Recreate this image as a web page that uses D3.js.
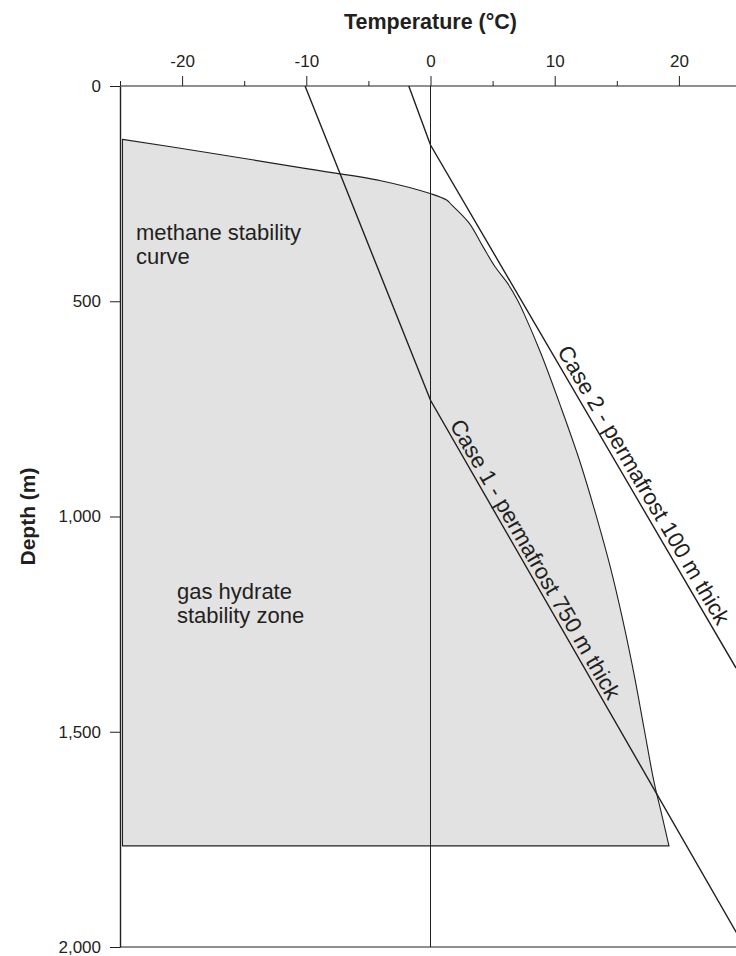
<!DOCTYPE html>
<html>
<head>
<meta charset="utf-8">
<script src="https://cdn.jsdelivr.net/npm/d3@7"></script>
<style>
  body { margin: 0; background: #fff; }
  svg { display: block; font-family: "Liberation Sans", Arial, Helvetica, sans-serif; }
</style>
</head>
<body>
<svg id="chart" width="736" height="956"></svg>
<script>
// axis ticks
const tempTicks = [-20, -10, 0, 10, 20];
const tempMinorTicks = [-25, -15, -5, 5, 15, 25];
const depthTicks = [0, 500, 1000, 1500, 2000];

// methane stability curve (temperature °C, depth m), closed at the base
const stabilityTemp  = [-24.8, -18.5, -10, -4.0, 0.1, 1.3, 1.7, 3.1, 4.2, 5.2, 6.2, 7.0, 7.5, 8.9, 10.5, 12.0, 13.3, 14.5, 15.5, 16.4, 17.2, 18.0, 18.6, 19.2];
const stabilityDepth = [124, 152, 192, 220, 251, 265, 276, 318, 372, 420, 458, 497, 527, 622, 746, 870, 994, 1120, 1243, 1368, 1493, 1617, 1690, 1765];
const zoneBaseTemp = -24.8;

// geothermal profiles
const case1Temp  = [-10.1, 0, 25.3];
const case1Depth = [0, 730, 2000];
const case2Temp  = [-1.75, 0, 24.6];
const case2Depth = [0, 137, 1352];

const svg = d3.select("#chart");
const ink = "#231f20";

const x = d3.scaleLinear().domain([-25, 25]).range([120, 741]);
const y = d3.scaleLinear().domain([0, 2000]).range([86, 947]);

const line = d3.line().x(d => x(d[0])).y(d => y(d[1]));

// gas hydrate stability zone
const zonePts = stabilityTemp.map((t, i) => [t, stabilityDepth[i]]);
const zoneBase = stabilityDepth[stabilityDepth.length - 1];
svg.append("path")
  .attr("d", d3.line().x(d => x(d[0])).y(d => y(d[1])).curve(d3.curveCatmullRom)(zonePts)
    + "L" + x(zoneBaseTemp) + "," + y(zoneBase) + "Z")
  .attr("fill", "#e2e2e2")
  .attr("stroke", ink)
  .attr("stroke-width", 1.1);

// 0 °C line
svg.append("line")
  .attr("x1", x(0)).attr("x2", x(0))
  .attr("y1", y(0)).attr("y2", y(2000))
  .attr("stroke", ink).attr("stroke-width", 1);

// bottom frame
svg.append("line")
  .attr("x1", x(-25)).attr("x2", x(25))
  .attr("y1", y(2000)).attr("y2", y(2000))
  .attr("stroke", ink).attr("stroke-width", 1.2);

// case lines
const cases = [
  { t: case1Temp, d: case1Depth, label: "Case 1 - permafrost 750 m thick", at: 792, off: -4 },
  { t: case2Temp, d: case2Depth, label: "Case 2 - permafrost 100 m thick", at: 622, off: -5 }
];

cases.forEach(c => {
  svg.append("path")
    .attr("d", line(c.t.map((t, i) => [t, c.d[i]])))
    .attr("fill", "none")
    .attr("stroke", ink)
    .attr("stroke-width", 1.4);

  // label runs along the deep segment
  const n = c.t.length;
  const tAt = d3.scaleLinear().domain(c.d.slice(n - 2)).range(c.t.slice(n - 2));
  const ang = Math.atan2(y(c.d[n - 1]) - y(c.d[n - 2]), x(c.t[n - 1]) - x(c.t[n - 2])) * 180 / Math.PI;
  svg.append("text")
    .attr("transform", "translate(" + x(tAt(c.at)) + "," + y(c.at) + ") rotate(" + ang + ")")
    .attr("dy", c.off)
    .attr("font-size", 22.4)
    .attr("fill", ink)
    .text(c.label);
});

// top axis
const topAxis = svg.append("g").attr("transform", "translate(0," + y(0) + ")");
topAxis.call(d3.axisTop(x).tickValues(tempTicks).tickSize(10).tickSizeOuter(0).tickPadding(9).tickFormat(d => String(d)));
topAxis.call(g => g.select(".domain").remove());
svg.append("g").attr("transform", "translate(0," + y(0) + ")")
  .call(d3.axisTop(x).tickValues(tempMinorTicks).tickSize(5).tickSizeOuter(0).tickFormat(""))
  .call(g => g.select(".domain").remove());
svg.append("line")
  .attr("x1", x(-25)).attr("x2", x(25))
  .attr("y1", y(0)).attr("y2", y(0))
  .attr("stroke", ink).attr("stroke-width", 1.2);

// left axis
const leftAxis = svg.append("g").attr("transform", "translate(" + x(-25) + ",0)");
leftAxis.call(d3.axisLeft(y).tickValues(depthTicks).tickSize(10).tickSizeOuter(0).tickPadding(9).tickFormat(d3.format(",")));
leftAxis.select(".domain").attr("stroke-width", 1.4);

svg.selectAll(".tick line").attr("stroke", ink).attr("stroke-width", 1);
svg.selectAll(".tick text").attr("fill", ink).attr("font-size", 17).attr("font-family", null);
svg.selectAll(".domain").attr("stroke", ink);

// axis titles
svg.append("text")
  .attr("x", x(0)).attr("y", 29)
  .attr("text-anchor", "middle")
  .attr("font-size", 21.5).attr("font-weight", "bold").attr("fill", ink)
  .text("Temperature (°C)");

svg.append("text")
  .attr("transform", "translate(35," + y(1000) + ") rotate(-90)")
  .attr("text-anchor", "middle")
  .attr("font-size", 21).attr("font-weight", "bold").attr("fill", ink)
  .text("Depth (m)");

// annotations
const notes = [
  { x: 136, y: 240, lines: ["methane stability", "curve"] },
  { x: 177, y: 599, lines: ["gas hydrate", "stability zone"] }
];
notes.forEach(n => {
  const t = svg.append("text").attr("font-size", 22).attr("fill", ink);
  n.lines.forEach((s, i) => {
    t.append("tspan").attr("x", n.x).attr("y", n.y + i * 24).text(s);
  });
});
</script>
</body>
</html>
